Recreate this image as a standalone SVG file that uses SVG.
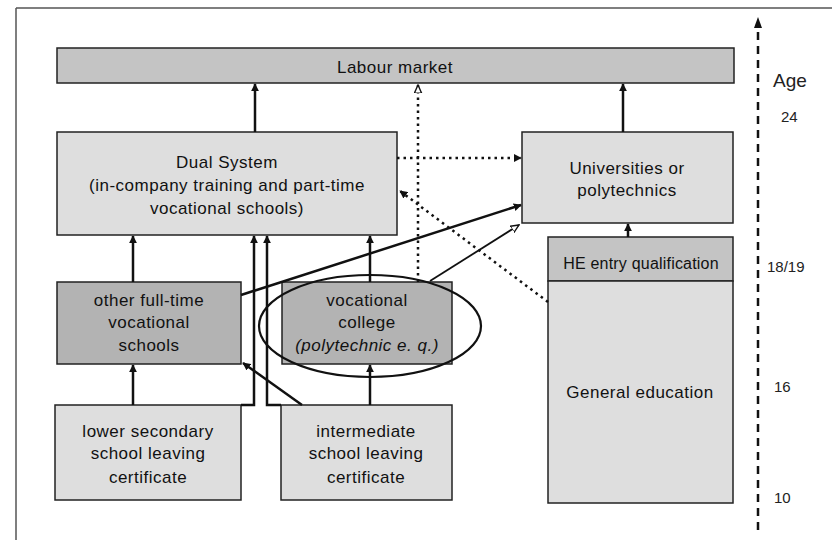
<svg xmlns="http://www.w3.org/2000/svg" width="832" height="540" viewBox="0 0 832 540">
<defs>
<style>
.box{stroke:#222;stroke-width:1.5}
.light{fill:#dedede}
.mid{fill:#c4c4c4}
.dark{fill:#b3b3b3}
.t{font-family:"Liberation Sans",Arial,sans-serif;font-size:17px;letter-spacing:0.5px;fill:#111;text-anchor:middle}
.age{font-family:"Liberation Sans",Arial,sans-serif;fill:#222}
.c{fill:none;stroke:#111;stroke-width:2.5}
.thin{fill:none;stroke:#111;stroke-width:1.8}
.dot{fill:none;stroke:#111;stroke-width:2.5;stroke-dasharray:2.5 4}
</style>
<marker id="ah" viewBox="0 0 10 10" refX="9" refY="5" markerWidth="8" markerHeight="8" markerUnits="userSpaceOnUse" orient="auto">
<path d="M0,0 L10,5 L0,10 Z" fill="#111"/>
</marker>
<marker id="ahw" viewBox="0 0 10 10" refX="9" refY="5" markerWidth="9" markerHeight="9" markerUnits="userSpaceOnUse" orient="auto">
<path d="M0,1 L9,5 L0,9 Z" fill="#fff" stroke="#111" stroke-width="1.5"/>
</marker>
</defs>
<rect width="832" height="540" fill="#fff"/>
<g id="frame">
<path d="M16,8 H832 M16,8 V540" fill="none" stroke="#555" stroke-width="1.5"/>
</g>
<g id="labour-market">
<rect class="box mid" x="57" y="48" width="677" height="35"/>
<text class="t" x="395" y="73">Labour market</text>
</g>
<g id="dual-system">
<rect class="box light" x="57" y="132" width="340" height="103"/>
<text class="t" x="227" y="168">Dual System</text>
<text class="t" x="227" y="191">(in-company training and part-time</text>
<text class="t" x="227" y="214">vocational schools)</text>
</g>
<g id="universities">
<rect class="box light" x="522" y="132" width="211" height="91"/>
<text class="t" x="627" y="174">Universities or</text>
<text class="t" x="627" y="196">polytechnics</text>
</g>
<g id="he-entry">
<rect class="box mid" x="548" y="237" width="185" height="44"/>
<text class="t" x="641" y="269" style="font-size:16px;letter-spacing:0.2px">HE entry qualification</text>
</g>
<g id="general-education">
<rect class="box light" x="548" y="281" width="185" height="222"/>
<text class="t" x="640" y="398">General education</text>
</g>
<g id="other-fulltime">
<rect class="box dark" x="57" y="282" width="184" height="82"/>
<text class="t" x="149" y="306">other full-time</text>
<text class="t" x="149" y="328">vocational</text>
<text class="t" x="149" y="351">schools</text>
</g>
<g id="vocational-college">
<rect class="box dark" x="282" y="282" width="170" height="82"/>
<text class="t" x="367" y="306">vocational</text>
<text class="t" x="367" y="328">college</text>
<text class="t" x="367" y="351" style="font-style:italic">(polytechnic e. q.)</text>
</g>
<g id="lower-secondary">
<rect class="box light" x="55" y="405" width="186" height="95"/>
<text class="t" x="148" y="437">lower secondary</text>
<text class="t" x="148" y="459">school leaving</text>
<text class="t" x="148" y="483">certificate</text>
</g>
<g id="intermediate">
<rect class="box light" x="281" y="405" width="171" height="95"/>
<text class="t" x="366" y="437">intermediate</text>
<text class="t" x="366" y="459">school leaving</text>
<text class="t" x="366" y="483">certificate</text>
</g>
<g id="ellipse">
<ellipse cx="370" cy="326" rx="111" ry="51" fill="none" stroke="#111" stroke-width="2.2"/>
</g>
<g id="connectors">
<path class="c" d="M255,132 V84" marker-end="url(#ah)"/>
<path class="c" d="M623,132 V84" marker-end="url(#ah)"/>
<path class="c" d="M628,237 V224" marker-end="url(#ah)"/>
<path class="c" d="M133,282 V236" marker-end="url(#ah)"/>
<path class="c" d="M133,405 V365" marker-end="url(#ah)"/>
<path class="c" d="M370,282 V236" marker-end="url(#ah)"/>
<path class="c" d="M370,405 V365" marker-end="url(#ah)"/>
<path class="c" d="M241,405 H254 V236" marker-end="url(#ah)"/>
<path class="c" d="M281,405 H267 V236" marker-end="url(#ah)"/>
<path class="c" d="M302,405 L243,363" marker-end="url(#ah)"/>
<path class="c" d="M241,295 L521,205" stroke-width="3" marker-end="url(#ah)"/>
<path class="thin" d="M430,281 L519,225" marker-end="url(#ahw)"/>
<path class="dot" d="M418,282 V85" marker-end="url(#ahw)"/>
<path class="dot" d="M397,158 H521" marker-end="url(#ah)"/>
<path class="dot" d="M548,302 L400,191" marker-end="url(#ah)"/>
</g>
<g id="age-axis">
<path d="M758,530 V26" fill="none" stroke="#111" stroke-width="2.5" stroke-dasharray="8 6"/>
<path d="M754,28 L758,17 L762,28 Z" fill="#111"/>
<text class="age" x="773" y="87" style="font-size:19px">Age</text>
<text class="age" x="781" y="122" style="font-size:15px">24</text>
<text class="age" x="767" y="272" style="font-size:15px">18/19</text>
<text class="age" x="774" y="392" style="font-size:15px">16</text>
<text class="age" x="774" y="503" style="font-size:15px">10</text>
</g>
</svg>
